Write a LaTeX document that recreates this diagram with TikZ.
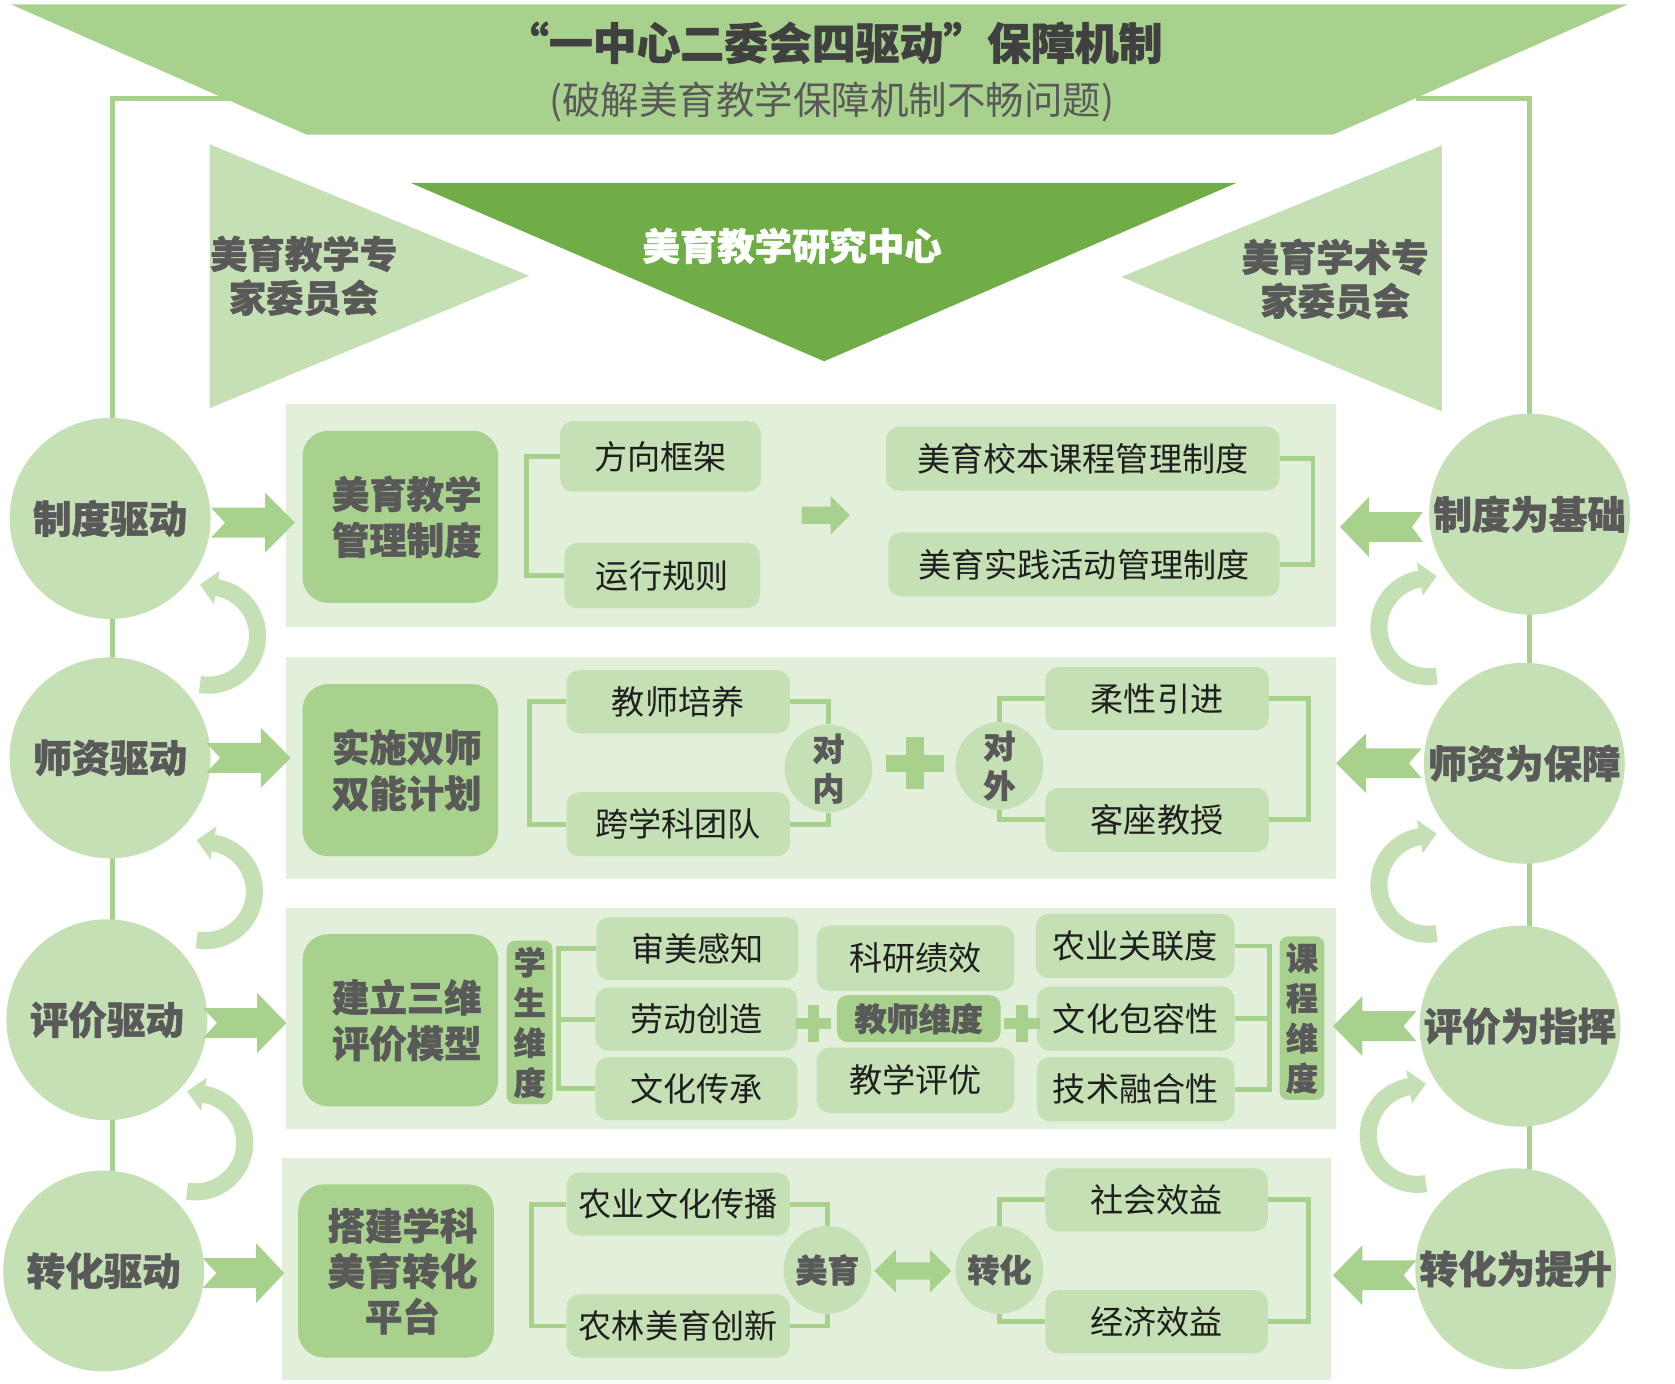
\documentclass[tikz,border=0pt]{standalone}
\usepackage{fontspec}
\setmainfont{Noto Sans CJK SC}[BoldFeatures={FakeBold=1.2}]
\usetikzlibrary{arrows.meta,backgrounds}
\definecolor{gA}{HTML}{A9D18E}
\definecolor{gC}{HTML}{C5E0B4}
\definecolor{gE}{HTML}{E2EFDA}
\definecolor{gD}{HTML}{70AD47}
\definecolor{tx}{HTML}{595959}
\definecolor{tt}{HTML}{404040}
\newcommand\fs[2]{\fontsize{#1}{#2}\selectfont}
% block arrow: tail x, notch x, head-base x, tip x, centre y (screen, downwards)
\newcommand\blk[5]{%
  \fill[gA] (#1,{-(#5)+14}) -- (#3,{-(#5)+14}) -- (#3,{-(#5)+28}) -- (#4,{-(#5)})
   -- (#3,{-(#5)-28}) -- (#3,{-(#5)-14}) -- (#1,{-(#5)-14}) -- (#2,{-(#5)}) -- cycle;}
% plus sign: cx, cy, half width, half height, half thickness
\newcommand\plussign[5]{%
  \fill[gA] ({#1-#3},{-(#2)-#5}) rectangle ({#1+#3},{-(#2)+#5});
  \fill[gA] ({#1-#5},{-(#2)-#4}) rectangle ({#1+#5},{-(#2)+#4});}
\begin{document}
\begin{tikzpicture}[x=0.5pt,y=0.5pt,
  mainbox/.style={fill=gA, rounded corners=12pt, inner sep=0pt, minimum width=91.5pt,
    minimum height=80.5pt, align=center, font=\bfseries\fs{17.5}{21.5}, text=tx},
  subbox/.style={fill=gC, rounded corners=6pt, inner sep=0pt, font=\fs{15.5}{18}, text=black!88},
  drvc/.style={circle, fill=gC, minimum size=94pt, inner sep=0pt, font=\bfseries\fs{18}{21}, text=tx},
  smc/.style={circle, fill=gC, minimum size=41pt, inner sep=0pt, align=center,
    font=\bfseries\fs{15}{18.5}, text=tx},
  vbox/.style={fill=gA, rounded corners=4pt, inner sep=0pt, align=center,
    font=\bfseries\fs{15}{18.75}, text=tx, minimum width=21.5pt, minimum height=76.5pt},
  br/.style={draw=gA, line width=2.25pt},
  frameline/.style={draw=gA, line width=2.5pt},
  band/.style={draw=gC, line width=8pt},
  bandtip/.style={-{Triangle[width=15.25pt,length=8pt]}}
]
\useasboundingbox (0,0) rectangle (1567,-1294);

% top banner
\fill[gA] (10,-4) -- (1523,-4) -- (1247,-126) -- (287,-126) -- cycle;
\node[font=\bfseries\fs{20.5}{24}, text=tt] (title) at (780,-40) {“一中心二委会四驱动”保障机制};
\node[font=\fs{18}{21}, text=tx] (subtitle) at (778,-95) {(破解美育教学保障机制不畅问题)};

% triangles
\fill[gC] (196,-135) -- (495,-258) -- (196,-382) -- cycle;
\fill[gC] (1349,-136) -- (1049,-259) -- (1349,-385) -- cycle;
\fill[gD] (384,-171) -- (1157,-171) -- (771,-338) -- cycle;
\node[font=\bfseries\fs{17.5}{20.5}, text=tx, align=center] (lcom) at (284,-258) {美育教学专\\家委员会};
\node[font=\bfseries\fs{17.5}{20.5}, text=tx, align=center] (rcom) at (1249,-261) {美育学术专\\家委员会};
\node[font=\bfseries\fs{17.5}{21}, text=white] (center) at (741,-230) {美育教学研究中心};

% panels
\fill[gE] (268,-378) rectangle (1250,-587);
\fill[gE] (268,-615) rectangle (1250,-822);
\fill[gE] (268,-849) rectangle (1250,-1056);
\fill[gE] (264,-1083) rectangle (1245,-1291);

% driver circles
\node[drvc] (L1) at (103,-485) {制度驱动};
\node[drvc] (L2) at (103,-709) {师资驱动};
\node[drvc] (L3) at (100,-954) {评价驱动};
\node[drvc] (L4) at (97,-1189) {转化驱动};
\node[drvc] (R1) at (1431,-481) {制度为基础};
\node[drvc] (R2) at (1426,-714) {师资为保障};
\node[drvc] (R3) at (1422,-960) {评价为指挥};
\node[drvc] (R4) at (1418,-1187) {转化为提升};

% curved arrows
\draw[band,bandtip] ([shift={(-100:46)}]195,-595) arc[start angle=-100,end angle=80,radius=46] -- ++(-16,2.8);
\draw[band,bandtip] ([shift={(-100:46)}]192,-834) arc[start angle=-100,end angle=80,radius=46] -- ++(-16,2.8);
\draw[band,bandtip] ([shift={(-100:46)}]183,-1069) arc[start angle=-100,end angle=80,radius=46] -- ++(-16,2.8);
\draw[band,bandtip] ([shift={(-80:46)}]1336,-587) arc[start angle=-80,end angle=-260,radius=46] -- ++(16,2.8);
\draw[band,bandtip] ([shift={(-80:46)}]1336,-828) arc[start angle=-80,end angle=-260,radius=46] -- ++(16,2.8);
\draw[band,bandtip] ([shift={(-80:46)}]1326,-1062) arc[start angle=-80,end angle=-260,radius=46] -- ++(16,2.8);

% block arrows
\blk{197.5}{210.5}{248}{276}{489}
\blk{193}{206}{244}{272}{709}
\blk{190}{203}{240.6}{268}{957}
\blk{189.5}{202.5}{239.5}{266}{1191}
\blk{1331}{1321}{1280.6}{1253.6}{493}
\blk{1330}{1318}{1278}{1250}{714}
\blk{1325}{1313}{1274.5}{1247}{960}
\blk{1325}{1313}{1274.5}{1247}{1193}

% main boxes
\node[mainbox] (m1) at (374.5,-483.5) {\hspace*{6pt}美育教学\\\hspace*{6pt}管理制度};
\node[mainbox] (m2) at (374.5,-720.5) {\hspace*{6pt}实施双师\\\hspace*{6pt}双能计划};
\node[mainbox] (m3) at (374.5,-954.5) {\hspace*{6pt}建立三维\\\hspace*{6pt}评价模型};
\node[mainbox, font=\bfseries\fs{17.5}{21.25}, minimum height=81pt] (m4) at (370.5,-1189) {\hspace*{6pt}搭建学科\\\hspace*{6pt}美育转化\\\hspace*{6pt}平台};

% row 1
\node[subbox, minimum width=94pt, minimum height=33pt] (a1) at (618,-427) {方向框架};
\node[subbox, minimum width=91.5pt, minimum height=30.5pt] (a2) at (619.5,-538.5) {运行规则};
\node[subbox, minimum width=184pt, minimum height=30pt] (a3) at (1013,-429) {美育校本课程管理制度};
\node[subbox, minimum width=183pt, minimum height=30pt] (a4) at (1014,-528) {美育实践活动管理制度};
\draw[br] (a1.west) -- ++(-31,0) |- (a2.west);
\draw[br] (a3.east) -- ++(31,0) |- (a4.east);
\fill[gA] (750,-474) -- (777,-474) -- (777,-464) -- (795,-482) -- (777,-500) -- (777,-490) -- (750,-490) -- cycle;

% row 2
\node[subbox, minimum width=104.5pt, minimum height=29.5pt] (b1) at (634.5,-656.5) {教师培养};
\node[subbox, minimum width=104.5pt, minimum height=30pt] (b2) at (634.5,-771) {跨学科团队};
\node[smc] (c1) at (775,-719) {对\\内};
\node[smc] (c2) at (935,-716.5) {对\\外};
\node[subbox, minimum width=104.5pt, minimum height=29.5pt] (d1) at (1082.5,-653.5) {柔性引进};
\node[subbox, minimum width=104.5pt, minimum height=30pt] (d2) at (1082.5,-767) {客座教授};
\draw[br] (b1.west) -- ++(-34,0) |- (b2.west);
\draw[br] (b1.east) -| (c1.north);
\draw[br] (b2.east) -| (c1.south);
\draw[br] (c2.north) |- (d1.west);
\draw[br] (c2.south) |- (d2.west);
\draw[br] (d1.east) -- ++(37,0) |- (d2.east);
\plussign{856}{714}{27}{24.5}{8}

% row 3
\node[vbox] (s0) at (495.5,-956.5) {学\\生\\维\\度};
\node[subbox, minimum width=94.5pt, minimum height=29.5pt] (e1) at (652.5,-887.5) {审美感知};
\node[subbox, minimum width=94.5pt, minimum height=29.5pt] (e2) at (651.5,-953.5) {劳动创造};
\node[subbox, minimum width=94.5pt, minimum height=29.5pt] (e3) at (651.5,-1018.5) {文化传承};
\node[subbox, minimum width=92.5pt, minimum height=30.5pt] (f1) at (856.5,-896.5) {科研绩效};
\node[subbox, fill=gA, font=\bfseries\fs{15}{18}, text=tx, rounded corners=5pt, minimum width=76.5pt, minimum height=22pt] (f2) at (859.5,-953) {教师维度};
\node[subbox, minimum width=92.5pt, minimum height=30.5pt] (f3) at (856.5,-1010.5) {教学评优};
\node[subbox, minimum width=93pt, minimum height=30pt] (g1) at (1062,-885) {农业关联度};
\node[subbox, minimum width=92.5pt, minimum height=30pt] (g2) at (1062.5,-953) {文化包容性};
\node[subbox, minimum width=92.5pt, minimum height=30pt] (g3) at (1062.5,-1019) {技术融合性};
\node[vbox, minimum width=21pt] (s1) at (1218,-952.5) {课\\程\\维\\度};
\draw[br] (e1.west) -- ++(-35,0) |- (e3.west);
\draw[br] (e2.west) -- ++(-35,0);
\draw[br] (g1.east) -- ++(32,0) |- (g3.east);
\draw[br] (g2.east) -- ++(32,0);
\plussign{761}{957.6}{16.5}{17}{5.5}
\plussign{956}{957.6}{16.5}{17}{5.5}

% row 4
\node[subbox, minimum width=104.5pt, minimum height=29.5pt] (h1) at (634.5,-1126.5) {农业文化传播};
\node[subbox, minimum width=104.5pt, minimum height=29.5pt] (h2) at (634.5,-1240.5) {农林美育创新};
\node[smc] (c3) at (774,-1188) {美育};
\node[smc] (c4) at (935,-1188) {转化};
\node[subbox, minimum width=104pt, minimum height=29.5pt] (i1) at (1082,-1122.5) {社会效益};
\node[subbox, minimum width=104pt, minimum height=29.5pt] (i2) at (1082,-1236.5) {经济效益};
\draw[br] (h1.west) -- ++(-32,0) |- (h2.west);
\draw[br] (h1.east) -| (c3.north);
\draw[br] (h2.east) -| (c3.south);
\draw[br] (c4.north) |- (i1.west);
\draw[br] (c4.south) |- (i2.west);
\draw[br] (i1.east) -- ++(38,0) |- (i2.east);
\fill[gA] (818,-1189) -- (838,-1169) -- (838,-1181) -- (870,-1181) -- (870,-1169) -- (890,-1189)
  -- (870,-1209) -- (870,-1197) -- (838,-1197) -- (838,-1209) -- cycle;

% frame lines behind everything
\coordinate (fl) at (105,-92);
\coordinate (fr) at (1431,-92);
\begin{pgfonlayer}{background}
\draw[frameline] (215,-92) -- (fl) -- (fl |- L4.center);
\draw[frameline] (1325,-92) -- (fr) -- (fr |- R4.center);
\end{pgfonlayer}
\end{tikzpicture}
\end{document}
